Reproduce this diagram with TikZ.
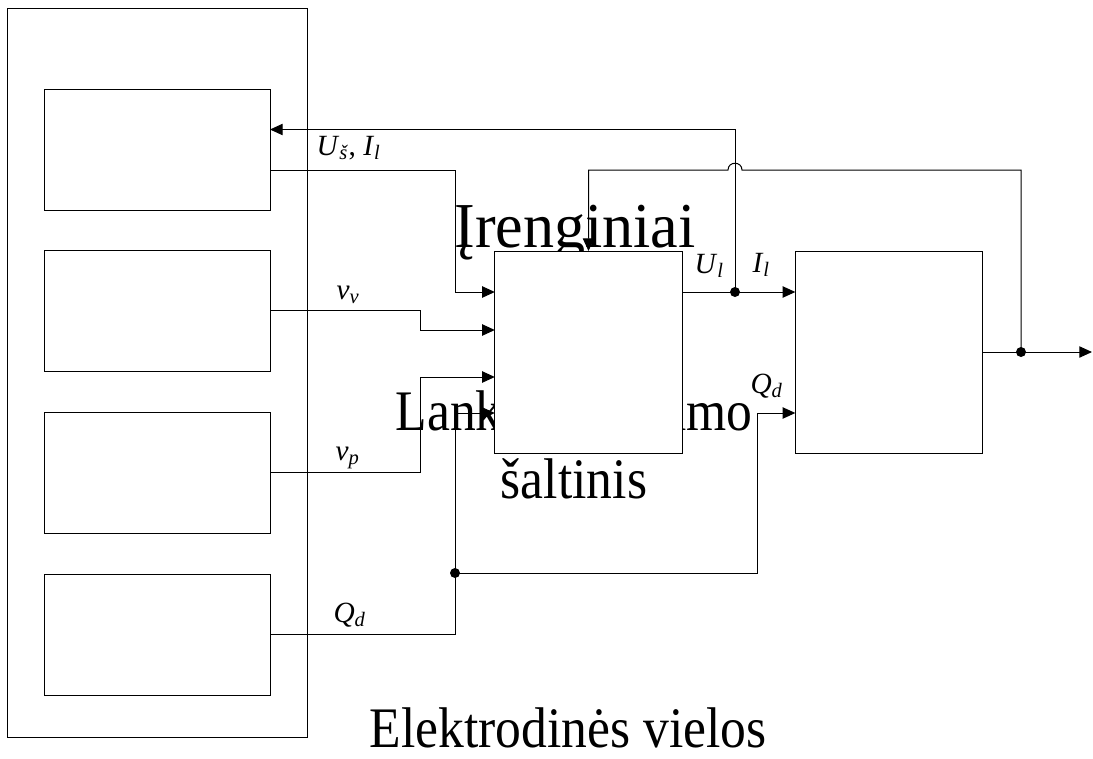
\documentclass[tikz,border=0pt]{standalone}
\usepackage{fontspec}
\setmainfont{Liberation Serif}
\usetikzlibrary{arrows.meta, positioning}
\newcommand{\signal}[2]{\textit{#1}\textsubscript{\textit{#2}}}

\begin{document}
\begin{tikzpicture}[
    x=0.75pt, y=-0.75pt,
    line width=0.75pt,
    frame/.style={draw, rectangle, fill=white, inner sep=0pt, outer sep=0pt},
    cell/.style={frame, minimum width=169.5pt, minimum height=90.75pt},
    unit/.style={frame, minimum width=140.5pt, minimum height=151.5pt},
    bigtext/.style={font=\fontsize{43}{51}\selectfont, inner sep=0pt, xscale=0.9},
    headtext/.style={font=\fontsize{48}{56}\selectfont, inner sep=0pt, xscale=0.97},
    sig/.style={font=\fontsize{22}{26}\selectfont, inner sep=0pt, anchor=base west},
    arrow/.style={->, >={Triangle[length=9.5pt, width=8.5pt]}},
    junction/.style={circle, fill, inner sep=0pt, minimum size=7.5pt}
]
\useasboundingbox (0,0) rectangle (1093,758);

\node[headtext, anchor=base] (devs) at (575,247) {Įrenginiai};
\node[bigtext, anchor=base, align=center] (psutext) at (574,498) {Lanko maitinimo\\šaltinis};
\node[bigtext, anchor=base] (wires) at (568,747) {Elektrodinės vielos};

\node[frame, minimum width=225pt, minimum height=546.75pt] (src) at (157,372.5) {};
\foreach \n/\y in {b1/149.5, b2/310.5, b3/472.5, b4/634.5}
  \node[cell] (\n) at (157,\y) {};
\node[unit] (psu) at (588.5,352) {};
\node[unit] (weld) at (889,352) {};

\coordinate (ul) at (735,292);
\coordinate (qd) at (455,573);
\coordinate (out) at (1021,352);
\coordinate (tip) at (1092,352);

\draw[arrow] (b1.east |- 0,170) -| (455,292) -- (psu.west |- 0,292);
\draw[arrow] (b2.east) -| (420,330) -- (psu.west |- 0,330);
\draw[arrow] (b3.east) -| (420,377) -- (psu.west |- 0,377);
\draw[arrow] (b4.east) -| (455,413) -- (psu.west |- 0,413);
\draw[arrow] (qd) -| (757,413) -- (weld.west |- 0,413);
\draw[arrow] (psu.east |- ul) -- (weld.west |- ul);
\draw[arrow] (ul) |- (b1.east |- 0,129.5);
\draw[arrow] (weld.east) -- (tip);
\draw[arrow] (out) -- (1021,170) -- (742,170) .. controls (742,161) and (728,161) .. (728,170) -- (psu.north |- 0,170) -- (psu.north);
\foreach \j in {ul, qd, out}
  \node[junction] at (\j) {};

\node[sig] (lus) at (316,155) {\signal{U}{š}, \signal{I}{l}};
\node[sig] (lvv) at (336,299) {\signal{v}{v}};
\node[sig] (lvp) at (335,460) {\signal{v}{p}};
\node[sig] (lqd) at (333,622) {\signal{Q}{d}};
\node[sig] (lul) at (694,273) {\signal{U}{l}};
\node[sig] (lil) at (752,272) {\signal{I}{l}};
\node[sig] (lqdw) at (750,393) {\signal{Q}{d}};
\end{tikzpicture}
\end{document}
